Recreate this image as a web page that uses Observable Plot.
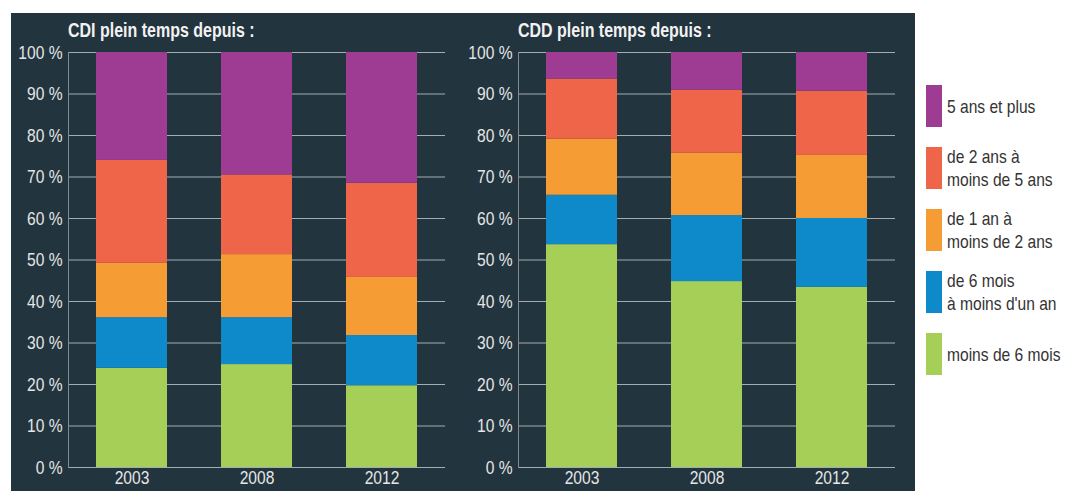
<!DOCTYPE html>
<html><head><meta charset="utf-8">
<script src="https://cdn.jsdelivr.net/npm/d3@7"></script>
<script src="https://cdn.jsdelivr.net/npm/@observablehq/plot@0.6"></script>
<style>
body{margin:0;background:#fff;font-family:"Liberation Sans",Arial,sans-serif;}
#panel{position:absolute;left:11px;top:13px;width:904px;height:478px;background:#22343e;}
.chart{position:absolute;top:13px;}
.title{position:absolute;top:19px;color:#f2f2f2;font-weight:bold;font-size:19.5px;line-height:normal;white-space:nowrap;transform:scaleX(0.82);transform-origin:left top;}
#legend{position:absolute;left:926px;top:85px;}
.item{position:absolute;left:0;display:flex;align-items:center;height:42px;}
.sw{width:16px;height:42px;flex:none;}
.lab{margin-left:5px;font-size:19px;line-height:23px;color:#333;white-space:pre;transform:scaleX(0.82);transform-origin:left center;}
</style></head><body>
<div id="panel"></div>
<div id="legend"></div>
<script>
const years = ["2003", "2008", "2012"];
const categories = ["moins de 6 mois", "de 6 mois à moins d'un an", "de 1 an à moins de 2 ans", "de 2 ans à moins de 5 ans", "5 ans et plus"];
const legendLabels = ["moins de 6 mois", "de 6 mois\nà moins d'un an", "de 1 an à\nmoins de 2 ans", "de 2 ans à\nmoins de 5 ans", "5 ans et plus"];
const colors = ["#a5cf57", "#0e89ca", "#f59c34", "#ef6549", "#9e3b93"];
// values per year, in stacking order (bottom to top)
const cdiValues = [
  [23.9, 12.2, 13.1, 24.8, 26.0],
  [24.8, 11.3, 15.2, 19.2, 29.5],
  [19.7, 12.1, 14.0, 22.7, 31.5]
];
const cddValues = [
  [53.7, 11.9, 13.5, 14.5, 6.4],
  [44.8, 15.9, 15.0, 15.2, 9.1],
  [43.4, 16.6, 15.2, 15.5, 9.3]
];
const yTicks = [0, 10, 20, 30, 40, 50, 60, 70, 80, 90, 100];
const titles = ["CDI plein temps depuis :", "CDD plein temps depuis :"];

function table(values) {
  const rows = [];
  years.forEach((yr, i) => categories.forEach((c, j) => rows.push({year: yr, category: c, value: values[i][j]})));
  return rows;
}

function chart(values) {
  return Plot.plot({
    width: 452, height: 478,
    marginLeft: 57, marginRight: 18, marginTop: 39, marginBottom: 24,
    style: {background: "transparent", fontFamily: "'Liberation Sans',Arial,sans-serif", color: "#e6e6e6"},
    x: {domain: years, paddingInner: 0.435, paddingOuter: 0.2175, label: null},
    y: {domain: [0, 100], label: null},
    color: {domain: categories, range: colors},
    marks: [
      Plot.ruleY(yTicks, {stroke: "#a3adb3", strokeWidth: 1, strokeOpacity: 1}),
      Plot.frame({anchor: "left", stroke: "#7f8c94"}),
      Plot.barY(table(values), {x: "year", y: "value", fill: "category"}),
      Plot.axisY(yTicks, {tickSize: 0, tickPadding: 6, tickFormat: d => d + " %", fontSize: 19, fill: "#e6e6e6", label: null}),
      Plot.axisX({tickSize: 0, tickPadding: 3, fontSize: 19, fill: "#e6e6e6", label: null})
    ]
  });
}

const lefts = [11, 461];
[cdiValues, cddValues].forEach((vals, k) => {
  const svg = chart(vals);
  svg.classList.add("chart");
  svg.style.left = lefts[k] + "px";
  document.body.appendChild(svg);
  // condense tick labels (narrow typeface look)
  svg.querySelectorAll("text").forEach(t => {
    const w = t.getComputedTextLength();
    if (w > 0) {
      t.setAttribute("textLength", (w * 0.82).toFixed(2));
      t.setAttribute("lengthAdjust", "spacingAndGlyphs");
    }
  });
  const t = document.createElement("div");
  t.className = "title";
  t.style.left = (lefts[k] + 57) + "px";
  t.textContent = titles[k];
  document.body.appendChild(t);
});

const legend = document.getElementById("legend");
categories.slice().reverse().forEach((c, i) => {
  const idx = categories.length - 1 - i;
  const it = document.createElement("div");
  it.className = "item";
  it.style.top = (i * 62) + "px";
  const sw = document.createElement("div");
  sw.className = "sw";
  sw.style.background = colors[idx];
  const lab = document.createElement("div");
  lab.className = "lab";
  lab.textContent = legendLabels[idx];
  it.appendChild(sw); it.appendChild(lab);
  legend.appendChild(it);
});
</script>
</body></html>
